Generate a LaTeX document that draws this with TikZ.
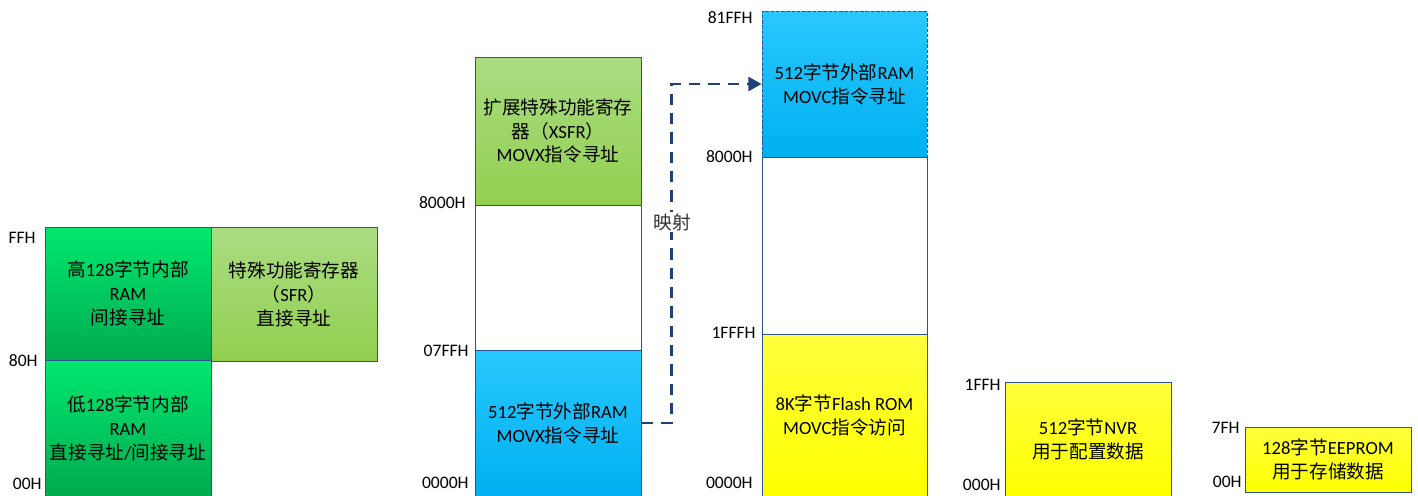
\documentclass[tikz,border=0pt]{standalone}
\usepackage{fontspec}
\setmainfont{Carlito}
\newfontfamily\cjk{Noto Sans CJK SC}
\newcommand{\zh}[1]{{\cjk #1}}
\usetikzlibrary{arrows.meta}

\definecolor{edgeblue}{RGB}{47,82,143}
\definecolor{mapblue}{RGB}{31,64,120}

\tikzset{
  mem/.style={draw=edgeblue, line width=0.5pt, rectangle, minimum width=3.32cm,
    inner sep=0pt, align=center, font=\fontsize{10.6}{13.6}\selectfont},
  ramgreen/.style={mem, top color={rgb,255:red,0;green,232;blue,110}, bottom color={rgb,255:red,0;green,170;blue,80}},
  sfrgreen/.style={mem, top color={rgb,255:red,170;green,220;blue,130}, bottom color={rgb,255:red,146;green,208;blue,80}},
  xblue/.style={mem, top color={rgb,255:red,40;green,200;blue,255}, bottom color={rgb,255:red,0;green,176;blue,240}},
  romyellow/.style={mem, top color={rgb,255:red,255;green,255;blue,60}, bottom color={rgb,255:red,255;green,255;blue,0}},
  empty/.style={mem, fill=white},
  addr/.style={anchor=east, inner sep=0pt, font=\fontsize{10}{12}\selectfont},
  maparrow/.style={draw=mapblue, line width=1.3pt, dash pattern=on 6.5pt off 4.5pt,
    -{Triangle[length=7.5pt,width=8pt]}},
}

\begin{document}
\begin{tikzpicture}[x=0.02cm, y=-0.02cm]
  \useasboundingbox (0,0) rectangle (1418,495);

  % internal RAM and SFR
  \node[ramgreen, minimum height=2.66cm] (hi) at (128,293.5) {\zh{高}128\zh{字节内部}\\RAM\\\zh{间接寻址}};
  \node[ramgreen, minimum height=2.72cm] (lo) at (128,428) {\zh{低}128\zh{字节内部}\\RAM\\\zh{直接寻址}/\zh{间接寻址}};
  \node[sfrgreen, minimum height=2.68cm] (sfr) at (294,294) {\zh{特殊功能寄存器}\\\zh{（}SFR\zh{）}\\\zh{直接寻址}};

  \node[addr] (a1) at (36,238) {FFH};
  \node[addr] (a2) at (38,361) {80H};
  \node[addr] (a3) at (42,484) {00H};

  % external data space
  \node[sfrgreen, minimum height=2.96cm] (xsfr) at (558,131) {\zh{扩展特殊功能寄存}\\\zh{器（}XSFR\zh{）}\\MOVX\zh{指令寻址}};
  \node[empty, minimum height=2.9cm] (xgap) at (558,277.5) {};
  \node[xblue, minimum height=2.92cm] (xram) at (558,423) {512\zh{字节外部}RAM\\MOVX\zh{指令寻址}};

  \node[addr] (b1) at (466,203) {8000H};
  \node[addr] (b2) at (469,351) {07FFH};
  \node[addr] (b3) at (469,483) {0000H};

  % program space
  \node[xblue, minimum width=3.3cm, minimum height=2.92cm, dash pattern=on 2pt off 1pt] (cram) at (844.5,84) {512\zh{字节外部}RAM\\MOVC\zh{指令寻址}};
  \node[empty, minimum width=3.3cm, minimum height=3.54cm] (cgap) at (844.5,245.5) {};
  \node[romyellow, minimum width=3.3cm, minimum height=3.24cm] (flash) at (844.5,415) {8K\zh{字节}Flash ROM\\MOVC\zh{指令访问}};

  \node[addr] (c1) at (753,18) {81FFH};
  \node[addr] (c2) at (753,157) {8000H};
  \node[addr] (c3) at (756,333) {1FFFH};
  \node[addr] (c4) at (753,483) {0000H};

  \draw[maparrow] (xram.east) -- ++(30,0) |- (cram.west);
  \node[fill=white, inner sep=1pt, text=black!80, font=\fontsize{10.6}{12}\selectfont] (maplbl) at (672,222) {\zh{映射}};

  % NVR and EEPROM
  \node[romyellow, minimum height=2.28cm] (nvr) at (1088,439) {512\zh{字节}NVR\\\zh{用于配置数据}};
  \node[addr] (d1) at (1001,385) {1FFH};
  \node[addr] (d2) at (1001,485) {000H};

  \node[romyellow, minimum height=1.3cm] (eep) at (1328,459.5) {128\zh{字节}EEPROM\\\zh{用于存储数据}};
  \node[addr] (e1) at (1240,428) {7FH};
  \node[addr] (e2) at (1242,482) {00H};
\end{tikzpicture}
\end{document}
